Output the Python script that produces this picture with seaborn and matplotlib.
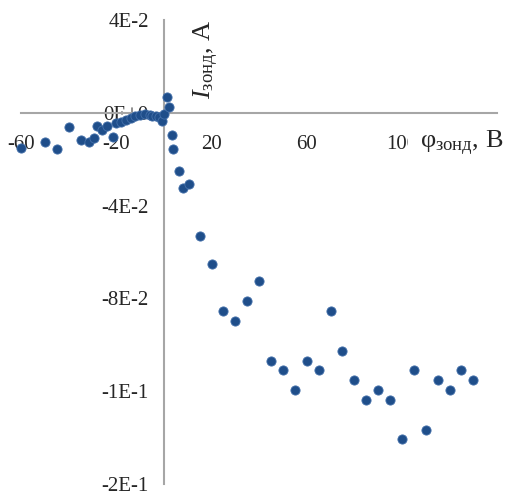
import matplotlib
matplotlib.use('Agg')
import matplotlib.pyplot as plt
import seaborn as sns
import pandas as pd
from matplotlib.patches import Rectangle

# Probe voltage (V) and probe current (A)
phi = [-60, -50, -45, -40, -35, -31.5, -29.5, -28, -26, -24, -21.5, -20, -18, -16, -14, -12,
       -10, -8, -6, -5, -3.5, -2, -0.7, 0.1, 1.1, 2.2, 3.2, 3.9, 6.4, 8.1, 10.4,
       15, 20, 25, 30, 35, 40, 45, 50, 55, 60, 65, 70, 75, 80, 85, 90, 95, 100,
       105, 110, 115, 120, 125, 130]
cur = [-0.0152, -0.0124, -0.0156, -0.0063, -0.0119, -0.0126, -0.0109, -0.0055, -0.0076,
       -0.0055, -0.0105, -0.0044, -0.0040, -0.0030, -0.0023, -0.0016, -0.0009, -0.0004,
       -0.0009, -0.0013, -0.0016, -0.0019, -0.0034, -0.0006, 0.0068, 0.0025, -0.0095,
       -0.0158, -0.0249, -0.0326, -0.0307,
       -0.0533, -0.0650, -0.0855, -0.0897, -0.0812, -0.0727, -0.1068, -0.1109, -0.1195,
       -0.1068, -0.1109, -0.0855, -0.1025, -0.1152, -0.1238, -0.1195, -0.1238, -0.1408,
       -0.1109, -0.1366, -0.1152, -0.1195, -0.1109, -0.1152]

x_ticks = [-60, -20, 20, 60, 100]
y_ticks = [0.04, 0.0, -0.04, -0.08, -0.12, -0.16]
y_labels = ['4E-2', '0E+0', '-4E-2', '-8E-2', '-1E-1', '-2E-1']

sns.set_style('white')
plt.rcParams['font.family'] = ['Liberation Serif', 'DejaVu Serif']
plt.rcParams['mathtext.fontset'] = 'custom'
plt.rcParams['mathtext.rm'] = 'Liberation Serif'
plt.rcParams['mathtext.it'] = 'Liberation Serif:italic'

df = pd.DataFrame({'phi': phi, 'cur': cur})

fig = plt.figure(figsize=(5.06, 4.97), dpi=100)
ax = fig.add_axes([0.0419, 0.0262, 0.9405, 0.9336])

sns.scatterplot(data=df, x='phi', y='cur', ax=ax, s=44, color='#1F4E8A',
                edgecolor='#4470aa', linewidth=0.6, zorder=5, clip_on=False)

ax.set_xlim(-60, 140)
ax.set_ylim(-0.16, 0.04)

for side in ['top', 'right']:
    ax.spines[side].set_visible(False)
for side in ['left', 'bottom']:
    ax.spines[side].set_position(('data', 0))
    ax.spines[side].set_color('#a6a6a6')
    ax.spines[side].set_linewidth(1.5)

ax.set_xticks(x_ticks)
ax.set_xticklabels([str(v) for v in x_ticks])
ax.set_yticks(y_ticks)
ax.set_yticklabels(y_labels)
ax.tick_params(axis='x', length=0, pad=16, labelsize=15)
ax.tick_params(axis='y', length=0, pad=11, labelsize=15)
ax.set_xlabel('')
ax.set_ylabel('')

# axis titles (Excel style, the x title box hides part of the "100" label)
fig.text(206 / 506, 1 - 59 / 497, r'$\mathit{I}_{\mathrm{зонд}}$, А', rotation=90,
         ha='center', va='center', fontsize=19)
fig.patches.append(Rectangle((408 / 506, 1 - 162 / 497), 98 / 506, 36 / 497,
                             transform=fig.transFigure, facecolor='white',
                             edgecolor='none', zorder=10))
fig.text(420 / 506, 1 - 143 / 497, r'$\mathrm{φ}_{\mathrm{зонд}}$, В', ha='left',
         va='center', fontsize=19, zorder=11)

fig.savefig('out.png', dpi=100, facecolor='white')
